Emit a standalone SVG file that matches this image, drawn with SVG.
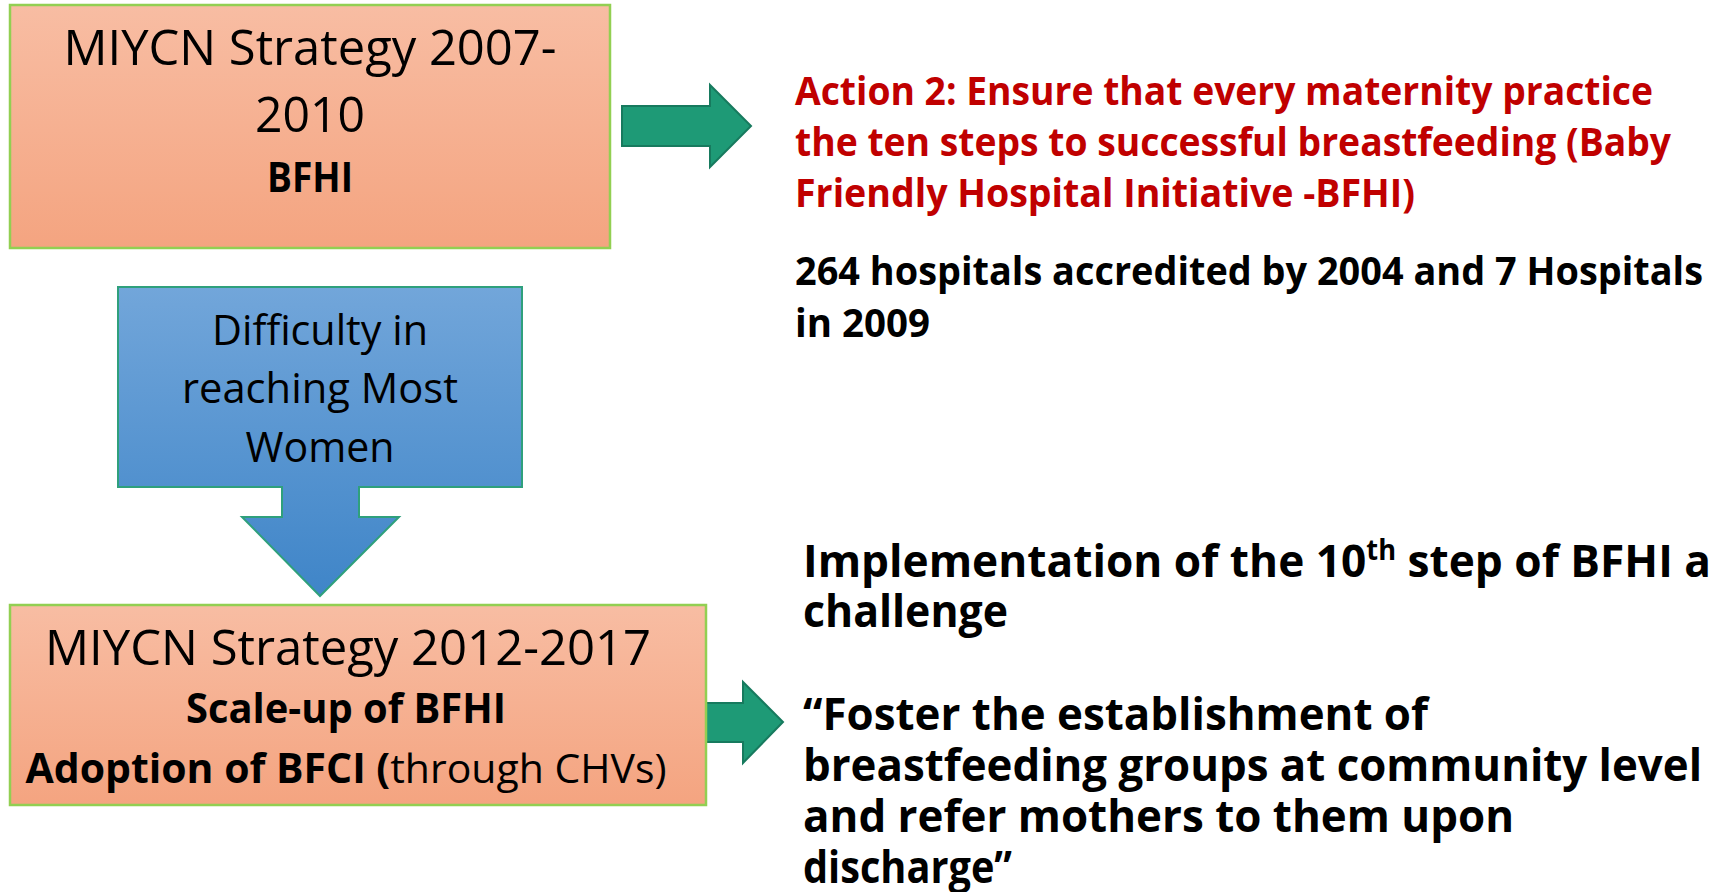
<svg xmlns="http://www.w3.org/2000/svg" width="1726" height="892" viewBox="0 0 1726 892">
  <defs>
    <linearGradient id="peach" x1="0" y1="0" x2="0" y2="1">
      <stop offset="0" stop-color="#F8BDA3"/>
      <stop offset="1" stop-color="#F4A480"/>
    </linearGradient>
    <linearGradient id="sky" x1="0" y1="0" x2="0" y2="1">
      <stop offset="0" stop-color="#72A6DA"/>
      <stop offset="1" stop-color="#3F85C8"/>
    </linearGradient>
    <style>
      text { font-family: "Open Sans", "Noto Sans", "Liberation Sans", sans-serif; fill: #000; }
      .box { fill: url(#peach); stroke: #92CF52; stroke-width: 2.5; }
      .callout { fill: url(#sky); stroke: #2FA07C; stroke-width: 2; }
      .flow { fill: #1E9A76; stroke: #177A5E; stroke-width: 2; stroke-linejoin: miter; }
      .big { font-size: 49.5px; }
      .mid { font-size: 42.5px; }
      .sub { font-size: 40.5px; }
      .b { font-weight: 700; }
      .red { fill: #C00000; font-weight: 700; font-size: 39px; }
      .note { font-weight: 700; font-size: 39px; }
      .quote { font-weight: 700; font-size: 45.5px; }
      .sup { font-size: 28px; }
    </style>
  </defs>

  <rect width="1726" height="892" fill="#FFFFFF"/>

  <!-- block arrows linking the strategy boxes to their notes -->
  <g id="connectors">
    <path class="flow" d="M622,106 H710 V85 L751,126 L710,167 V146 H622 Z"/>
    <path class="flow" d="M706,703 H743 V682 L783,722 L743,763 V742 H706 Z"/>
  </g>

  <g id="node-strategy-2007">
    <rect class="box" x="10" y="5" width="600" height="243"/>
    <text class="big" x="310" y="65" text-anchor="middle" textLength="493" lengthAdjust="spacingAndGlyphs">MIYCN Strategy 2007-</text>
    <text class="big" x="310" y="132" text-anchor="middle" textLength="110" lengthAdjust="spacingAndGlyphs">2010</text>
    <text class="sub b" x="310" y="192" text-anchor="middle" textLength="86" lengthAdjust="spacingAndGlyphs">BFHI</text>
  </g>

  <g id="node-difficulty">
    <path class="callout" d="M118,287 H522 V487 H359 V517 H399 L320,596 L242,517 H282 V487 H118 Z"/>
    <text class="mid" x="320" y="345" text-anchor="middle" textLength="216" lengthAdjust="spacingAndGlyphs">Difficulty in</text>
    <text class="mid" x="320" y="403" text-anchor="middle" textLength="276" lengthAdjust="spacingAndGlyphs">reaching Most</text>
    <text class="mid" x="320" y="462" text-anchor="middle" textLength="149" lengthAdjust="spacingAndGlyphs">Women</text>
  </g>

  <g id="node-strategy-2012">
    <rect class="box" x="10" y="605" width="696" height="200"/>
    <text class="big" x="348" y="665" text-anchor="middle" textLength="606" lengthAdjust="spacingAndGlyphs">MIYCN Strategy 2012-2017</text>
    <text class="sub b" x="346" y="723" text-anchor="middle" textLength="320" lengthAdjust="spacingAndGlyphs">Scale-up of BFHI</text>
    <text class="sub" x="346" y="783" text-anchor="middle" textLength="641" lengthAdjust="spacingAndGlyphs"><tspan font-weight="700">Adoption of BFCI (</tspan>through CHVs)</text>
  </g>

  <g id="node-action2">
    <text class="red" x="795" y="105" textLength="858" lengthAdjust="spacingAndGlyphs">Action 2: Ensure that every maternity practice</text>
    <text class="red" x="795" y="156" textLength="876" lengthAdjust="spacingAndGlyphs">the ten steps to successful breastfeeding (Baby</text>
    <text class="red" x="795" y="207" textLength="620" lengthAdjust="spacingAndGlyphs">Friendly Hospital Initiative -BFHI)</text>
  </g>

  <g id="node-hospitals">
    <text class="note" x="795" y="285" textLength="908" lengthAdjust="spacingAndGlyphs">264 hospitals accredited by 2004 and 7 Hospitals</text>
    <text class="note" x="795" y="337" textLength="135" lengthAdjust="spacingAndGlyphs">in 2009</text>
  </g>

  <g id="node-tenth-step">
    <text class="quote" x="803" y="577" textLength="908" lengthAdjust="spacingAndGlyphs">Implementation of the 10<tspan class="sup" dy="-17">th</tspan><tspan dy="17"> step of BFHI a</tspan></text>
    <text class="quote" x="803" y="627" textLength="205" lengthAdjust="spacingAndGlyphs">challenge</text>
    <text class="quote" x="803" y="730" textLength="625" lengthAdjust="spacingAndGlyphs">“Foster the establishment of</text>
    <text class="quote" x="803" y="781" textLength="899" lengthAdjust="spacingAndGlyphs">breastfeeding groups at community level</text>
    <text class="quote" x="803" y="832" textLength="711" lengthAdjust="spacingAndGlyphs">and refer mothers to them upon</text>
    <text class="quote" x="803" y="883" textLength="209" lengthAdjust="spacingAndGlyphs">discharge”</text>
  </g>
</svg>
